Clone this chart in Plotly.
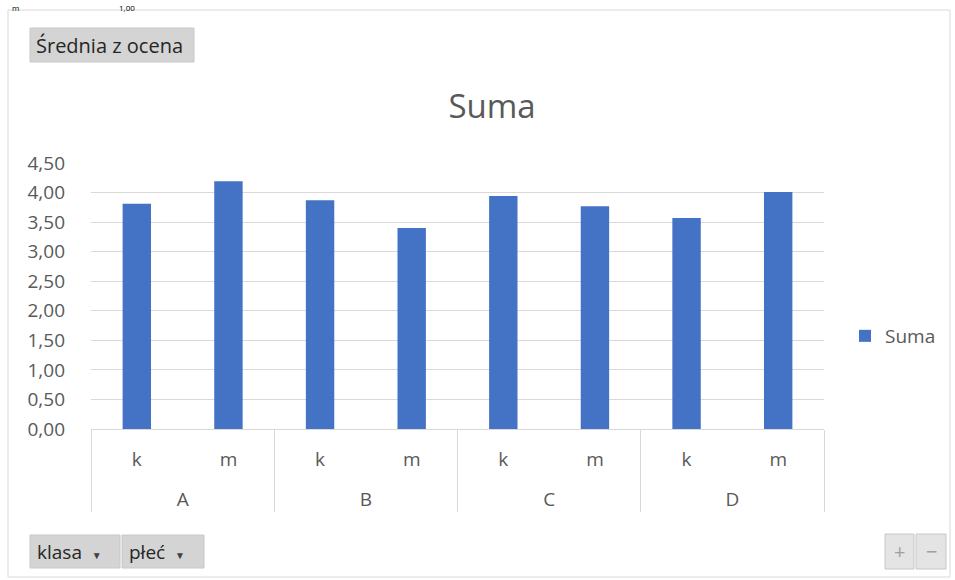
import plotly.graph_objects as go

# ---- data ----
klasa = ["A", "A", "B", "B", "C", "C", "D", "D"]
plec = ["k", "m", "k", "m", "k", "m", "k", "m"]
srednia = [3.81, 4.19, 3.87, 3.40, 3.94, 3.77, 3.57, 4.01]
y_ticks = [0, 0.5, 1, 1.5, 2, 2.5, 3, 3.5, 4, 4.5]
series_name = "Suma"
title_text = "Suma"
value_button = "Średnia z ocena"
field_buttons = ["klasa", "płeć"]
sheet_fragments = ["m", "1,00"]

W, H = 955, 580
L, R, T, B = 91, 131, 163, 151
PW, PH = W - L - R, H - T - B


def px(x):
    return (x - L) / PW


def py(y):
    return (H - B - y) / PH


FONT = "Open Sans"
GRAY = "#595959"
GRID = "#d9d9d9"
FS = 19

# outer category labels pushed one line down (Excel-like spacing between levels)
klasa_lbl = ["<br>" + k for k in klasa]

fig = go.Figure()
fig.add_trace(go.Bar(
    x=[klasa_lbl, plec], y=srednia, name=series_name,
    marker=dict(color="#4472C4", line=dict(width=0)),
    showlegend=True,
))

shapes = []
annotations = []

# chart frame
shapes.append(dict(type="rect", xref="paper", yref="paper",
                   x0=px(8), x1=px(950), y0=py(577), y1=py(10),
                   line=dict(color="#d9d9d9", width=1), fillcolor="rgba(0,0,0,0)",
                   layer="below"))


def button(x0, x1, y0, y1, text, fill="#d4d4d4", color="#262626", size=FS,
           align="left", pad=7):
    shapes.append(dict(type="rect", xref="paper", yref="paper",
                       x0=px(x0), x1=px(x1), y0=py(y1), y1=py(y0),
                       line=dict(color="#c8c8c8", width=1), fillcolor=fill))
    if align == "left":
        ax, anc = px(x0 + pad), "left"
    else:
        ax, anc = px((x0 + x1) / 2), "center"
    annotations.append(dict(xref="paper", yref="paper",
                            x=ax, y=py((y0 + y1) / 2),
                            xanchor=anc, yanchor="middle", showarrow=False,
                            text=text, font=dict(family=FONT, size=size, color=color)))


button(30, 194, 28, 62, value_button, size=20, pad=4)
arrow = "  <span style='font-size:10px;color:#404040'>▼</span>"
button(30, 120, 535, 568, field_buttons[0] + arrow, pad=5)
button(122, 204, 535, 568, field_buttons[1] + arrow, pad=5)
button(885, 914, 534, 569, "+", fill="#e4e4e4", color="#a0a0a0", size=20, align="center")
button(916, 946, 534, 569, "−", fill="#e4e4e4", color="#a0a0a0", size=20, align="center")

# fragments of the sheet cells above the chart
for xx, t in zip([10, 117], sheet_fragments):
    annotations.append(dict(xref="paper", yref="paper", x=px(xx), y=py(0),
                            xanchor="left", yanchor="top", showarrow=False,
                            text=t, font=dict(family=FONT, size=8, color="#000000")))

fig.update_layout(
    width=W, height=H,
    margin=dict(l=L, r=R, t=T, b=B, autoexpand=False),
    paper_bgcolor="white", plot_bgcolor="white",
    separators=", ",
    bargap=0.69,
    title=dict(text=title_text, xref="container", x=492 / W, xanchor="center",
               y=1 - 106 / H, yanchor="middle",
               font=dict(family=FONT, size=33, color=GRAY)),
    font=dict(family=FONT, color=GRAY),
    legend=dict(x=px(845), xanchor="left", y=py(336), yanchor="middle",
                font=dict(family=FONT, size=FS, color=GRAY), bgcolor="rgba(0,0,0,0)"),
    shapes=shapes, annotations=annotations,
    xaxis=dict(type="multicategory", showline=True, linecolor=GRID, linewidth=1,
               showdividers=True, dividercolor=GRID, dividerwidth=1,
               ticks="", ticklabelstandoff=13,
               tickfont=dict(family=FONT, size=FS, color=GRAY),
               showgrid=False),
    yaxis=dict(range=[0, 4.5], tickvals=y_ticks, tickformat=".2f",
               showgrid=True, gridcolor=GRID, gridwidth=1, zeroline=False,
               showline=False, ticklabelstandoff=25,
               tickfont=dict(family=FONT, size=FS, color=GRAY)),
)

fig.write_html("out.html", config={"displayModeBar": False},
               post_script="document.body.style.margin='0';")
